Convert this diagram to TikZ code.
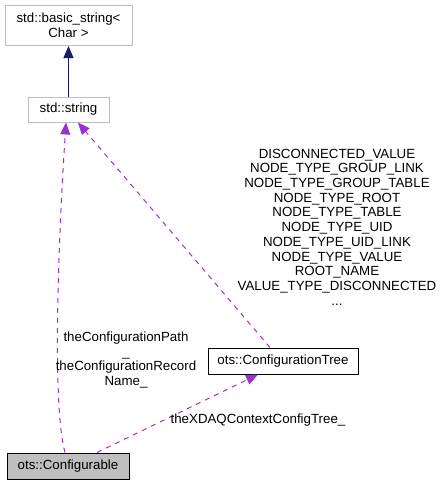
\documentclass[tikz,border=0pt]{standalone}
\usepackage{fontspec}
\setmainfont{Liberation Sans}
\usetikzlibrary{arrows.meta}
\definecolor{boxgray}{HTML}{BFBFBF}
\definecolor{inhblue}{HTML}{191970}
\definecolor{usepurple}{HTML}{9A32CD}
\begin{document}
\begin{tikzpicture}[x=1pt,y=-1pt,
  every node/.style={font=\fontsize{13.3}{14.7}\selectfont, inner sep=0pt, align=center},
  graybox/.style={draw=boxgray, line width=1pt, fill=white},
  blackbox/.style={draw=black, line width=1pt, fill=white},
  focusbox/.style={draw=black, line width=1pt, fill=boxgray},
  inh/.style={draw=inhblue, line width=1pt, -{Triangle[length=12pt,width=10pt]}},
  use/.style={draw=usepurple, line width=1pt, dash pattern=on 5pt off 5pt, -{Triangle[length=12pt,width=10pt]}},
  lbl/.style={text=black}]
\useasboundingbox (0,0) rectangle (441,485);
\node[graybox, minimum width=127pt, minimum height=40pt] (basic) at (68.5,25.5) {std::basic\_string<\\Char >};
\node[graybox, minimum width=81pt, minimum height=25pt] (str) at (68.5,109.5) {std::string};
\node[blackbox, minimum width=150pt, minimum height=26pt] (tree) at (283,361) {ots::ConfigurationTree};
\node[focusbox, minimum width=122pt, minimum height=26pt] (conf) at (68,466) {ots::Configurable};
\coordinate (strA) at ([xshift=-2.5pt]str.south);
\coordinate (strB) at ([xshift=9.5pt]str.south);
\coordinate (confA) at ([xshift=-3pt]conf.north);
\coordinate (confB) at ([xshift=29pt]conf.north);
\coordinate (treeT) at ([xshift=-13pt]tree.north);
\coordinate (treeB) at ([xshift=-25pt]tree.south);
\draw[inh] (str) -- (basic);
\draw[use] (confA) .. controls (53,410) and (57,260) .. (strA);
\draw[use] (treeT) -- (strB);
\draw[use] (confB) -- (treeB);
\node[lbl] (lpath) at (126,360) {theConfigurationPath\\\_\\theConfigurationRecord\\Name\_};
\node[lbl] (lxdaq) at (258,420) {theXDAQContextConfigTree\_};
\node[lbl] (lenum) at (337,227) {DISCONNECTED\_VALUE\\NODE\_TYPE\_GROUP\_LINK\\NODE\_TYPE\_GROUP\_TABLE\\NODE\_TYPE\_ROOT\\NODE\_TYPE\_TABLE\\NODE\_TYPE\_UID\\NODE\_TYPE\_UID\_LINK\\NODE\_TYPE\_VALUE\\ROOT\_NAME\\VALUE\_TYPE\_DISCONNECTED\\...};
\end{tikzpicture}
\end{document}
